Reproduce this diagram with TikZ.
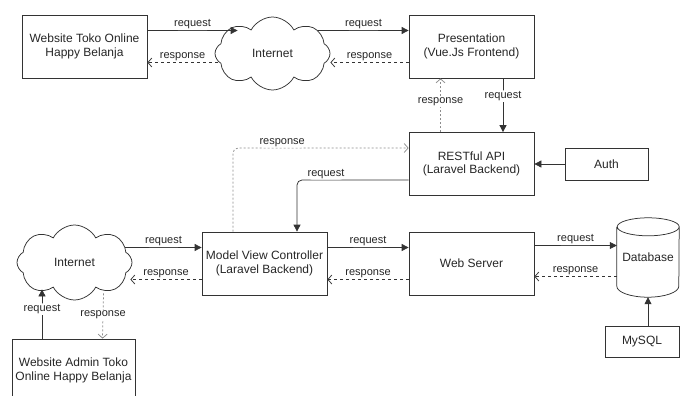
\documentclass[tikz,border=0pt]{standalone}
\usepackage{fontspec}
\setmainfont{Liberation Sans}
\usetikzlibrary{arrows.meta,shapes.symbols,calc}

\begin{document}
\begin{tikzpicture}[x=1pt, y=-1pt, font=\fontsize{12}{13.5}\selectfont, text=black!85, every node/.style={inner sep=2pt}]
        \tikzset{
            box/.style={draw=black!80, line width=0.75pt, align=center, minimum width=125pt, minimum height=63pt, inner sep=0pt},
            cld/.style={draw=black!80, line width=0.75pt, cloud, cloud puffs=8, cloud puff arc=125, cloud ignores aspect, minimum width=115pt, minimum height=73pt, inner sep=0pt},
            req/.style={draw=black!80, line width=0.75pt, rounded corners=5pt, -{Triangle[length=7pt,width=7pt]}},
            res/.style={draw=black!80, line width=0.75pt, dash pattern=on 3pt off 3pt, -{Straight Barb[length=4pt,width=9pt]}},
            resg/.style={draw=black!45, line width=0.75pt, rounded corners=5pt, dash pattern=on 2pt off 2pt, -{Straight Barb[length=4pt,width=9pt]}},
            lbl/.style={font=\fontsize{11}{12}\selectfont, fill=white, inner sep=1pt}
        }
        \useasboundingbox (0,0) rectangle (680,396);
        \clip (0,0) rectangle (680,396);
        \node[box] (web) at (84.5,46.5) {Website Toko Online\\Happy Belanja};
        \node[cld] (inet) at (272.5,53.5) {Internet};
        \node[box] (pres) at (471.5,46.5) {Presentation\\(Vue.Js Frontend)};
        \node[box] (api) at (471.5,164) {RESTful API\\(Laravel Backend)};
        \node[box, minimum width=83pt, minimum height=32pt] (auth) at (606.5,164) {Auth};
        \node[box] (mvc) at (264.5,263.5) {Model View Controller\\(Laravel Backend)};
        \node[box] (ws) at (471.5,263.5) {Web Server};
        \node[minimum width=62pt, minimum height=79pt, inner sep=0pt] (db) at (648,257.5) {Database};
        \draw[draw=black!80, line width=0.75pt] ([yshift=-9pt]db.north west) -- ([yshift=11pt]db.south west)
            arc[start angle=180, end angle=360, x radius=31pt, y radius=11pt] -- ([yshift=-9pt]db.north east)
            arc[start angle=0, end angle=180, x radius=31pt, y radius=9pt]
            arc[start angle=180, end angle=360, x radius=31pt, y radius=9pt];
        \node[box, minimum width=74pt, minimum height=31pt] (sql) at (642,341.5) {MySQL};
        \node[cld, minimum height=75pt] (inet2) at (74.5,262.5) {Internet};
        \node[box, minimum width=123pt] (adm) at (73.5,370.5) {Website Admin Toko\\Online Happy Belanja};

        \draw[req] ([yshift=16pt]web.east) -- ($(web.east -| inet.west)+(23,-16)$) node[lbl, above, midway] {request};
        \draw[res] ($(web.east -| inet.west)+(3,16)$) -- ([yshift=-16pt]web.east) node[lbl, above, midway] {response};
        \draw[req] ($(pres.west -| inet.east)+(-12,-16)$) -- ([yshift=16pt]pres.west) node[lbl, above, midway] {request};
        \draw[res] ([yshift=-16pt]pres.west) -- ($(pres.west -| inet.east)+(0,16)$) node[lbl, above, midway] {response};
        \draw[req] ([xshift=31.5pt]pres.south) -- ([xshift=31.5pt]api.north) node[lbl, pos=0.33] {request};
        \draw[resg] ([xshift=-31pt]api.north) -- ([xshift=-31pt]pres.south) node[lbl, pos=0.56] {response};
        \draw[req] (auth.west) -- (api.east);
        \draw[resg] ([xshift=-31.5pt]mvc.north) |- ([yshift=16pt]api.west) node[lbl, above, pos=0.64] {response};
        \draw[req] ([yshift=-16pt]api.west) -| ([xshift=32.5pt]mvc.north) node[lbl, above, pos=0.37] {request};
        \draw[req] ($(mvc.west -| inet2.east)+(-7,-16)$) -- ([yshift=16pt]mvc.west) node[lbl, above, midway] {request};
        \draw[res] ([yshift=-16pt]mvc.west) -- ($(mvc.west -| inet2.east)+(-2,16)$) node[lbl, above, midway] {response};
        \draw[req] ([yshift=16pt]mvc.east) -- ([yshift=16pt]ws.west) node[lbl, above, midway] {request};
        \draw[res] ([yshift=-16pt]ws.west) -- ([yshift=-16pt]mvc.east) node[lbl, above, midway] {response};
        \draw[req] ([yshift=18pt]ws.east) -- ([yshift=18pt]ws.east -| db.west) node[lbl, above, midway] {request};
        \draw[res] ([yshift=-13pt]ws.east -| db.west) -- ([yshift=-13pt]ws.east) node[lbl, above, midway] {response};
        \draw[req] (sql.north -| db.south) -- (db.south);
        \draw[req] ([xshift=-31.5pt]adm.north) -- ($(inet2.south)+(-32.5,-11)$) node[lbl, pos=0.6] {request};
        \draw[resg] ($(inet2.south)+(29,-7)$) -- ([xshift=29pt]adm.north) node[lbl, pos=0.48] {response};
    \end{tikzpicture}
\end{document}
